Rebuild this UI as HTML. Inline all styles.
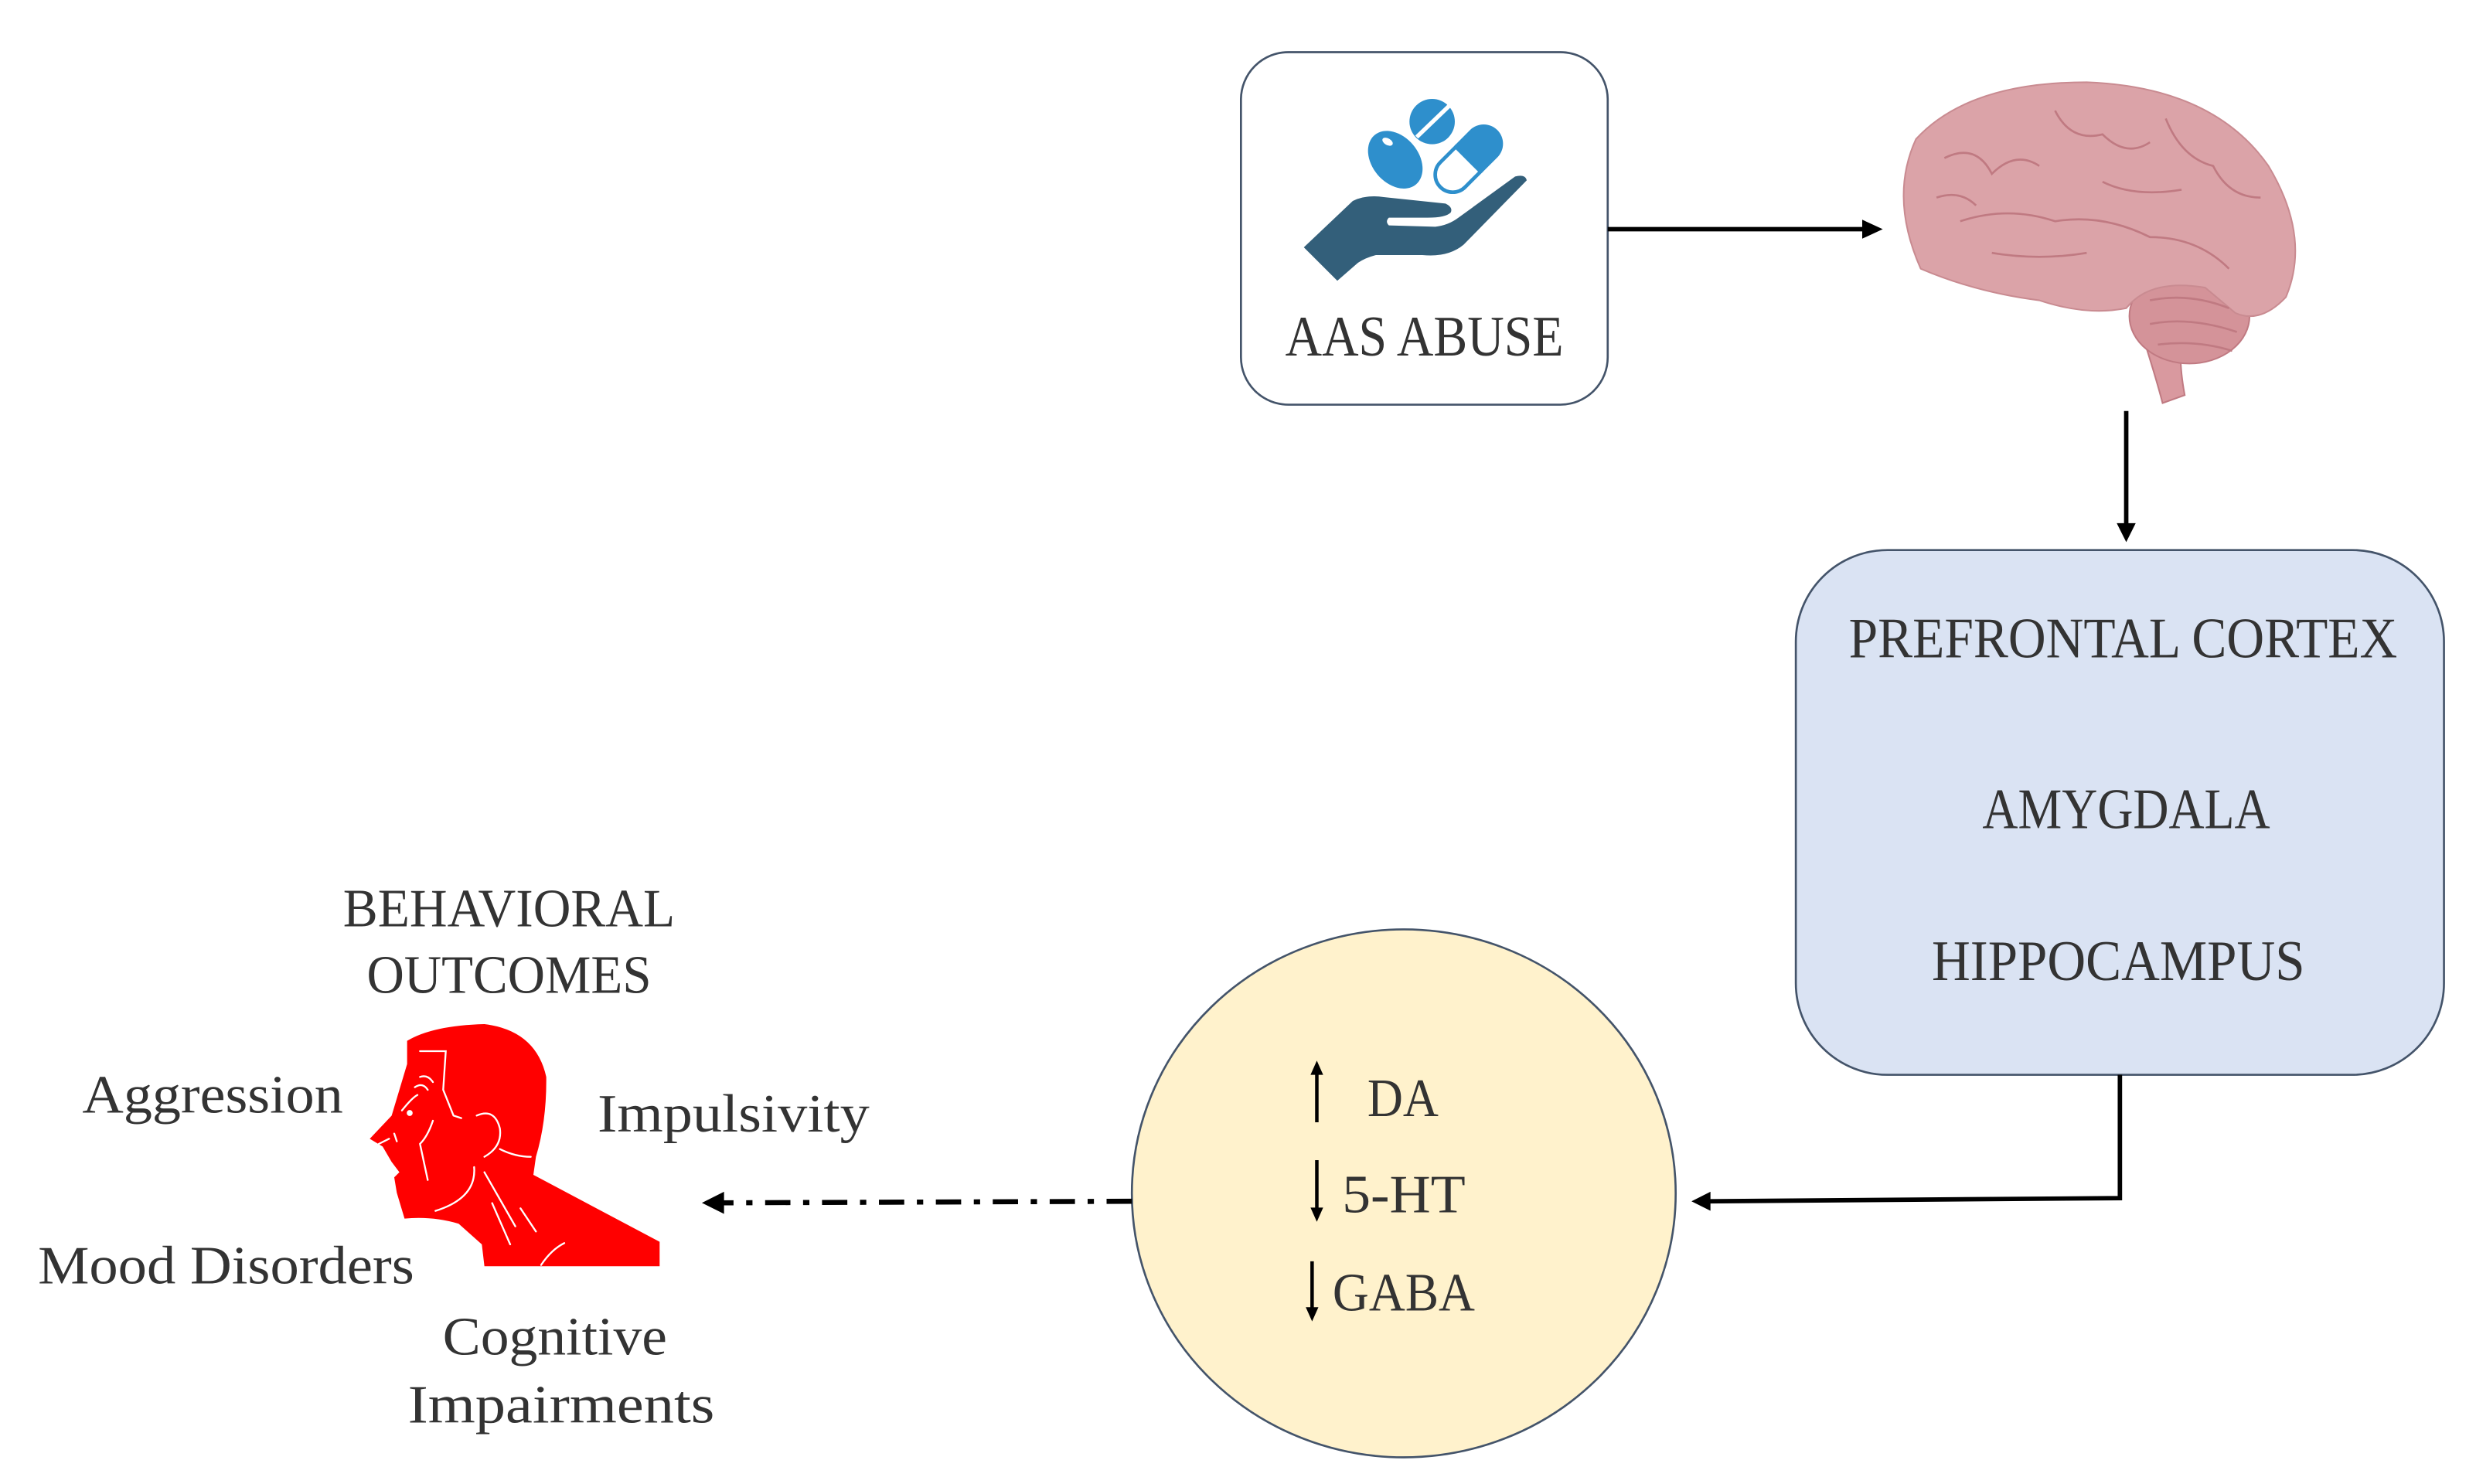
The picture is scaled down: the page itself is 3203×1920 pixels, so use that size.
<!DOCTYPE html>
<html><head><meta charset="utf-8"><style>
html,body{margin:0;padding:0;background:#fff;}
svg{display:block;}
text{font-family:"Liberation Serif",serif;fill:#333;}
</style></head><body>
<svg width="3203" height="1920" viewBox="0 0 3203 1920" xmlns="http://www.w3.org/2000/svg">
<g transform="scale(2.045)">
<!-- AAS box -->
<rect x="785" y="33" width="232" height="223" rx="30" fill="#fff" stroke="#44546a" stroke-width="1.3"/>
<text x="901" y="225" font-size="36" text-anchor="middle" textLength="176" lengthAdjust="spacingAndGlyphs">AAS ABUSE</text>
<!-- arrow to brain -->
<line x1="1017" y1="145" x2="1180" y2="145" stroke="#000" stroke-width="2.8"/>
<path d="M1178,139 L1191,145 L1178,151 Z" fill="#000"/>
<!-- brain -->
<path d="M1348,190 Q1362,232 1368,255 L1382,250 Q1376,218 1384,205 Z" fill="#d9999f" stroke="#c07a82" stroke-width="1"/>
<ellipse cx="1385" cy="200" rx="38" ry="30" fill="#d49399" stroke="#c07a82" stroke-width="1"/>
<path d="M1215,170 Q1195,125 1212,88 Q1245,52 1320,52 Q1400,55 1435,105 Q1462,150 1446,188 Q1430,205 1414,198 L1395,182 Q1360,176 1345,195 Q1320,200 1290,190 Q1250,185 1215,170 Z" fill="#dba3a8" stroke="#c98b91" stroke-width="1"/>
<g fill="none" stroke="#c07a82" stroke-width="1.3">
<path d="M1230,100 Q1250,90 1260,110 Q1275,95 1290,105"/>
<path d="M1300,70 Q1310,90 1330,85 Q1345,100 1360,90"/>
<path d="M1370,75 Q1380,100 1400,105 Q1410,125 1430,125"/>
<path d="M1240,140 Q1270,130 1300,140 Q1330,135 1360,150 Q1390,150 1410,170"/>
<path d="M1260,160 Q1290,165 1320,160"/>
<path d="M1330,115 Q1350,125 1380,120"/>
<path d="M1225,125 Q1240,120 1250,130"/>
<path d="M1360,190 Q1385,185 1410,195 M1360,205 Q1385,200 1415,210 M1365,218 Q1390,215 1412,222"/>
</g>
<!-- down arrow -->
<line x1="1345" y1="260" x2="1345" y2="333" stroke="#000" stroke-width="2.8"/>
<path d="M1339,331 L1345,343 L1351,331 Z" fill="#000"/>
<!-- blue box -->
<rect x="1136" y="348" width="410" height="332" rx="58" fill="#dae3f3" stroke="#44546a" stroke-width="1.3"/>
<text x="1343" y="416" font-size="36" text-anchor="middle" textLength="347" lengthAdjust="spacingAndGlyphs">PREFRONTAL CORTEX</text>
<text x="1345" y="524" font-size="36" text-anchor="middle" textLength="182" lengthAdjust="spacingAndGlyphs">AMYGDALA</text>
<text x="1340" y="620" font-size="36" text-anchor="middle" textLength="236" lengthAdjust="spacingAndGlyphs">HIPPOCAMPUS</text>
<!-- elbow connector -->
<polyline points="1341,680 1341,758 1080,760" fill="none" stroke="#000" stroke-width="2.8"/>
<path d="M1082,754 L1070,760 L1082,766 Z" fill="#000"/>
<!-- circle -->
<ellipse cx="888" cy="755" rx="172" ry="167" fill="#fff2cc" stroke="#44546a" stroke-width="1.3"/>
<line x1="833" y1="676" x2="833" y2="710" stroke="#000" stroke-width="2.2"/>
<path d="M829,680 L833,671 L837,680 Z" fill="#000"/>
<text x="865" y="706" font-size="34" textLength="45" lengthAdjust="spacingAndGlyphs">DA</text>
<line x1="833" y1="734" x2="833" y2="768" stroke="#000" stroke-width="2.2"/>
<path d="M829,764 L833,773 L837,764 Z" fill="#000"/>
<text x="849" y="767" font-size="34" textLength="78" lengthAdjust="spacingAndGlyphs">5-HT</text>
<line x1="830" y1="798" x2="830" y2="831" stroke="#000" stroke-width="2.2"/>
<path d="M826,827 L830,836 L834,827 Z" fill="#000"/>
<text x="843" y="829" font-size="34" textLength="90" lengthAdjust="spacingAndGlyphs">GABA</text>
<!-- dash-dot arrow -->
<line x1="716" y1="760" x2="455" y2="761" stroke="#000" stroke-width="3.2" stroke-dasharray="16,8,4,8"/>
<path d="M458,754 L444,761 L458,768 Z" fill="#000"/>
<!-- labels -->
<text x="322" y="586" font-size="34" text-anchor="middle" textLength="210" lengthAdjust="spacingAndGlyphs">BEHAVIORAL</text>
<text x="322" y="628" font-size="34" text-anchor="middle" textLength="180" lengthAdjust="spacingAndGlyphs">OUTCOMES</text>
<text x="52" y="704" font-size="34" textLength="165" lengthAdjust="spacingAndGlyphs">Aggression</text>
<text x="378" y="716" font-size="34" textLength="172" lengthAdjust="spacingAndGlyphs">Impulsivity</text>
<text x="24" y="812" font-size="34" textLength="238" lengthAdjust="spacingAndGlyphs">Mood Disorders</text>
<text x="351" y="857" font-size="34" text-anchor="middle" textLength="142" lengthAdjust="spacingAndGlyphs">Cognitive</text>
<text x="355" y="900" font-size="34" text-anchor="middle" textLength="194" lengthAdjust="spacingAndGlyphs">Impairments</text>
</g>
<!-- hand & pills (zoom coords) -->
<g transform="translate(1640,100) scale(0.3333)">
<path d="M140,660 L330,480 Q380,455 450,465 L690,490 Q720,505 710,525 Q690,545 620,545 L470,545 Q455,560 470,575 L650,580 Q700,575 740,545 L960,385 Q1000,375 1005,400 L760,650 Q700,700 600,690 L420,690 Q380,700 350,720 L270,790 Z" fill="#335f7a"/>
<ellipse cx="495" cy="320" rx="90" ry="125" transform="rotate(-40 495 320)" fill="#2e8fcc"/>
<ellipse cx="465" cy="250" rx="22" ry="13" transform="rotate(30 465 250)" fill="#fff"/>
<circle cx="638" cy="172" r="88" fill="#2e8fcc"/>
<line x1="578" y1="232" x2="705" y2="110" stroke="#fff" stroke-width="16"/>
<g transform="rotate(45 778 318)">
<path d="M703,318 L703,233 A75,75 0 0 1 853,233 L853,318 Z" fill="#2e8fcc"/>
<path d="M710,318 L710,403 A68,68 0 0 0 846,403 L846,318 Z" fill="#fff" stroke="#2e8fcc" stroke-width="14"/>
</g>
</g>
<!-- red head (zoom coords) -->
<g transform="translate(460,1310) scale(0.3333)">
<path d="M200,110 Q300,50 500,45 Q700,70 740,250 Q742,420 700,560 L690,630 L1180,890 L1180,985 L500,985 L490,900 L400,820 Q300,790 190,800 L160,700 L150,640 L170,620 L140,580 L105,520 L55,490 L140,400 L170,300 L200,200 Z" fill="#ff0000"/>
<g fill="none" stroke="#fff" stroke-width="7" stroke-linecap="round">
<path d="M250,150 L350,150 L340,300 L380,400 L410,410"/>
<path d="M470,400 Q540,370 560,450 Q570,520 500,560"/>
<path d="M300,420 Q280,480 250,510 L280,650"/>
<path d="M180,380 Q220,330 240,320 M230,290 Q260,270 280,300 M250,250 Q280,240 300,270"/>
<path d="M90,510 L130,490 M150,470 L160,500"/>
<path d="M460,600 Q470,720 310,770"/>
<path d="M500,620 L620,830 M530,740 L600,900 M640,760 L700,850"/>
<path d="M560,530 Q620,560 680,560"/>
<path d="M720,980 Q760,920 810,895"/>
<circle cx="210" cy="390" r="8" fill="#fff"/>
</g>
</g>
</svg>
</body></html>
